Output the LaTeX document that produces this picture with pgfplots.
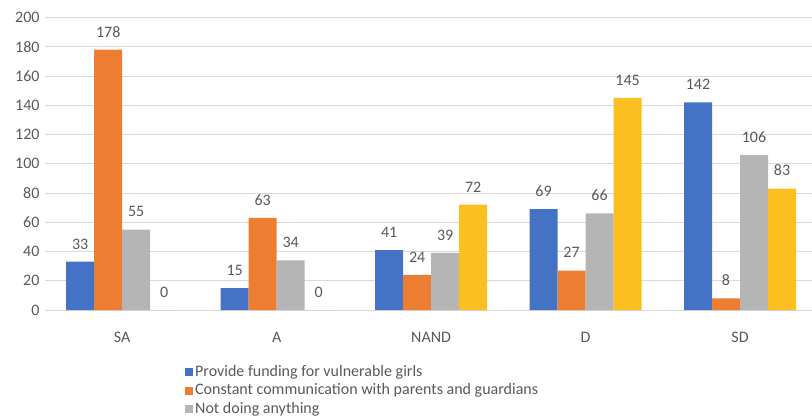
\documentclass[border=0pt]{standalone}
\usepackage{pgfplots}
\pgfplotsset{compat=1.18}
\usepackage{fontspec}
\setmainfont{Carlito}
\definecolor{cblue}{HTML}{4472C4}
\definecolor{corange}{HTML}{ED7D31}
\definecolor{cgray}{HTML}{B5B5B5}
\definecolor{cyellow}{HTML}{FBBF1F}
\definecolor{ctext}{HTML}{595959}
\definecolor{cgrid}{HTML}{D9D9D9}
\newcommand{\ff}{\fontsize{16pt}{19pt}\selectfont}
\begin{document}
\begin{tikzpicture}
\useasboundingbox (-45pt,-108pt) rectangle (767pt,310pt);
\begin{axis}[
  at={(0pt,0pt)}, anchor=south west,
  scale only axis,
  width=767pt, height=292.5pt,
  ybar=0pt, bar width=28pt,
  xmin=-0.5, xmax=4.466,
  ymin=0, ymax=200,
  ytick={0,20,...,200},
  xtick={0,1,2,3,4},
  xticklabels={SA,A,NAND,D,SD},
  major tick length=0pt,
  axis x line*=bottom,
  axis y line*=left,
  x axis line style={cgrid, line width=1pt, -},
  y axis line style={draw=none},
  ymajorgrids,
  grid style={cgrid, line width=0.9pt},
  /pgf/number format/assume math mode=true,
  ticklabel style={font=\ff, text=ctext},
  xticklabel style={yshift=-19pt},
  yticklabel style={xshift=-2pt},
  nodes near coords,
  every node near coord/.append style={font=\ff, text=ctext, yshift=9pt},
  legend style={at={(0.1825,-0.181)}, anchor=north west, draw=none, fill=none,
    font=\ff, text=ctext, row sep=0pt, inner sep=0pt,
    nodes={inner sep=2pt, text height=11pt, text depth=3.5pt},
    /tikz/every even column/.append style={column sep=2pt}},
  legend cell align=left,
  legend image code/.code={\fill[#1] (0pt,-4pt) rectangle (8pt,4pt);},
]
\addplot[fill=cblue, draw=none] coordinates {(0,33) (1,15) (2,41) (3,69) (4,142)};
\addplot[fill=corange, draw=none] coordinates {(0,178) (1,63) (2,24) (3,27) (4,8)};
\addplot[fill=cgray, draw=none] coordinates {(0,55) (1,34) (2,39) (3,66) (4,106)};
\addplot[fill=cyellow, draw=none] coordinates {(0,0) (1,0) (2,72) (3,145) (4,83)};
\legend{Provide funding for vulnerable girls, Constant communication with parents and guardians, Not doing anything}
\end{axis}
\end{tikzpicture}
\end{document}
